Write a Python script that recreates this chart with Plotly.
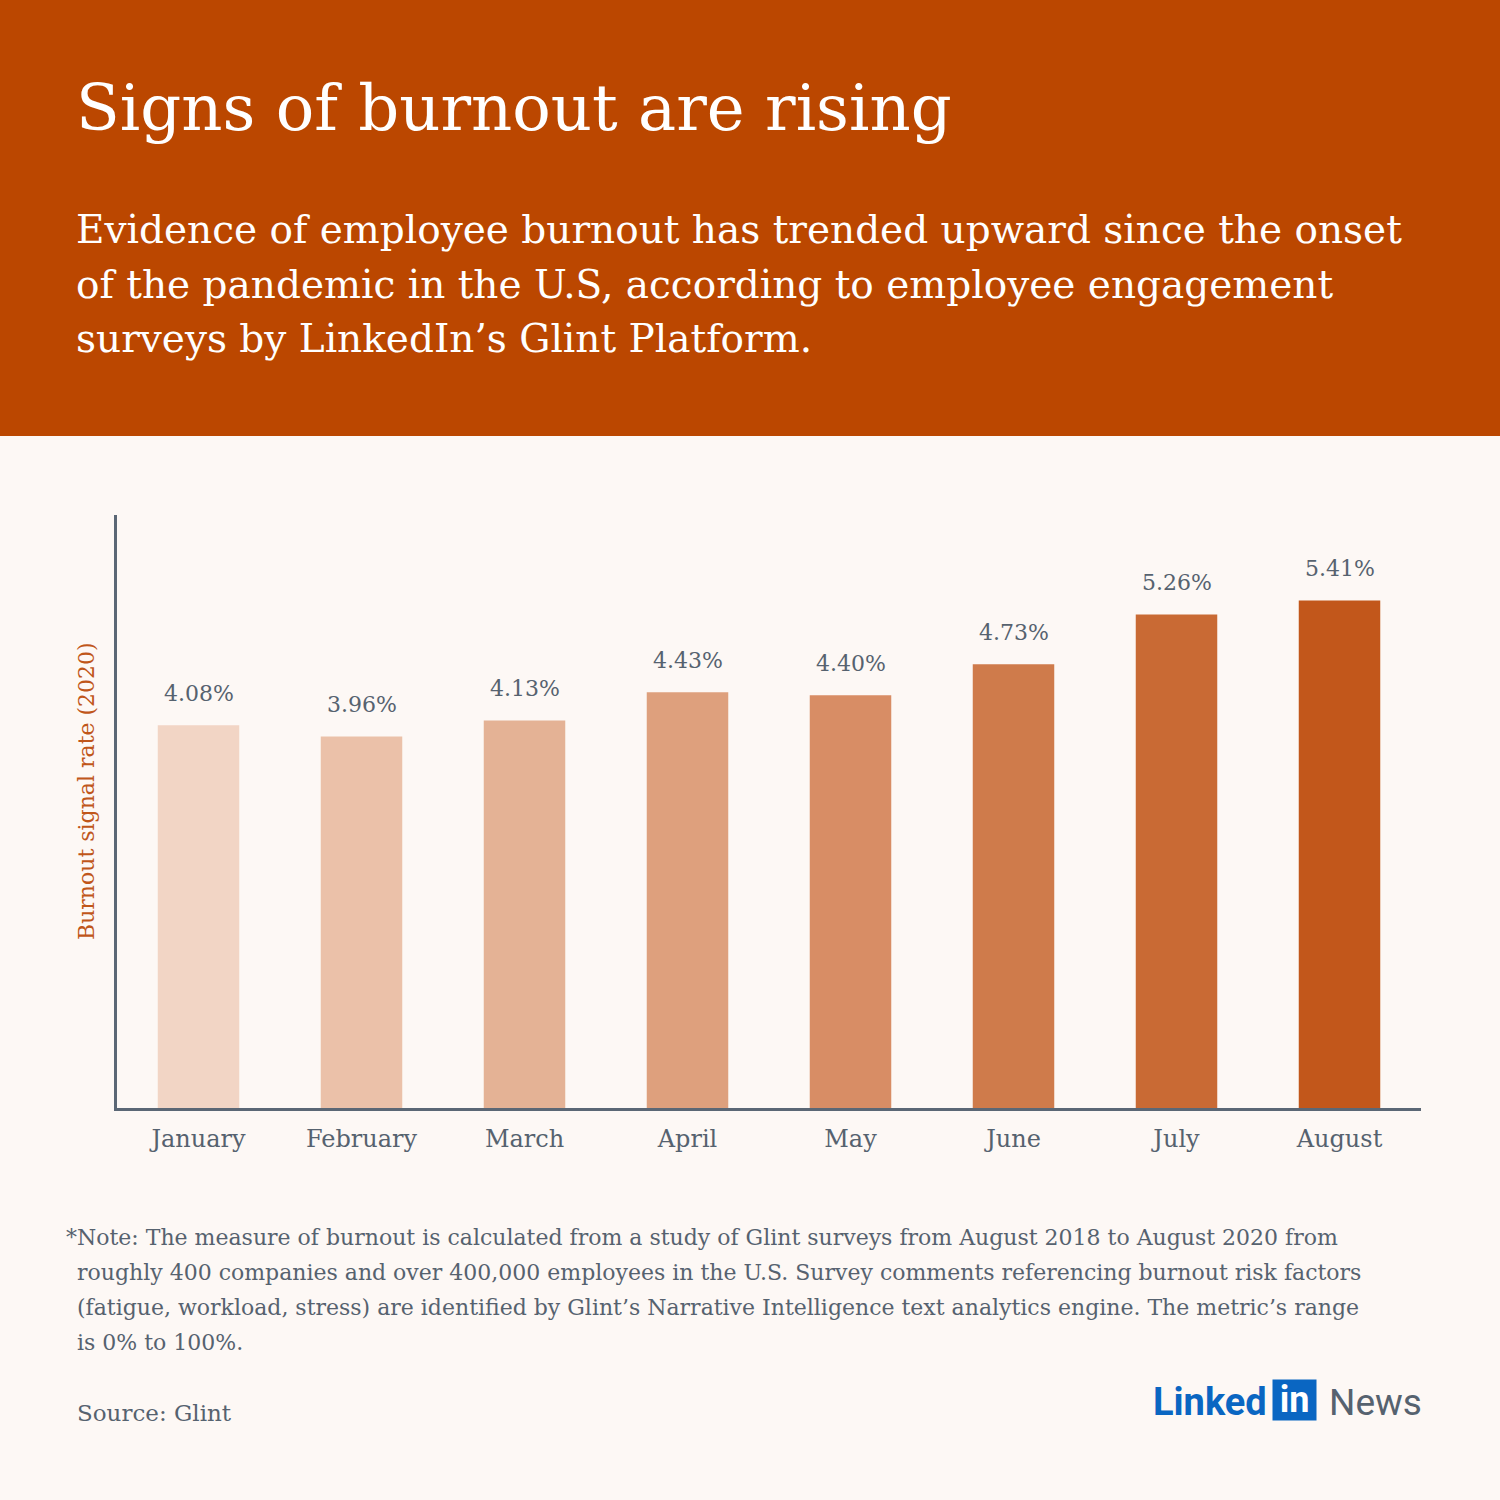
import plotly.graph_objects as go

months = ["January", "February", "March", "April", "May", "June", "July", "August"]
burnout_rate = [4.08, 3.96, 4.13, 4.43, 4.40, 4.73, 5.26, 5.41]

bar_colors = ["#F2D5C5", "#EBC1A9", "#E4B295", "#DEA07D", "#D88D65", "#CF7B4B", "#C96A34", "#C2571B"]

title_text = "Signs of burnout are rising"
subtitle_lines = [
    "Evidence of employee burnout has trended upward since the onset",
    "of the pandemic in the U.S, according to employee engagement",
    "surveys by LinkedIn’s Glint Platform.",
]
note_lines = [
    "*Note: The measure of burnout is calculated from a study of Glint surveys from August 2018 to August 2020 from",
    "roughly 400 companies and over 400,000 employees in the U.S. Survey comments referencing burnout risk factors",
    "(fatigue, workload, stress) are identified by Glint’s Narrative Intelligence text analytics engine. The metric’s range",
    "is 0% to 100%.",
]
y_title = "Burnout signal rate (2020)"
source_text = "Source: Glint"

W, H = 1500, 1500
SERIF = "DejaVu Serif, serif"
GRAY = "#56626F"
ORANGE = "#BB4700"
BG = "#FDF8F5"


def px(x):
    return x / W


def py(y):
    return 1 - y / H


fig = go.Figure(go.Bar(
    x=months, y=burnout_rate,
    marker=dict(color=bar_colors, line=dict(width=0)),
    hoverinfo="skip",
))

ann = []
# value labels via axis coordinates
for m, v in zip(months, burnout_rate):
    ann.append(dict(xref="x", yref="y", x=m, y=v, text=f"{v:.2f}%", showarrow=False,
                    yanchor="bottom", yshift=17,
                    font=dict(family=SERIF, size=22, color=GRAY)))

fig.update_layout(
    width=W, height=H,
    margin=dict(l=0, r=0, t=0, b=0),
    paper_bgcolor=BG, plot_bgcolor=BG,
    bargap=0.5, showlegend=False,
    xaxis=dict(domain=[px(117), px(1421)], showline=True, linecolor="#5B6775", linewidth=3,
               showgrid=False, ticks="", ticklabelstandoff=7,
               tickfont=dict(family=SERIF, size=24, color=GRAY), fixedrange=True),
    yaxis=dict(domain=[py(1108), py(515)], range=[0, 6.32], showline=True, linecolor="#5B6775",
               linewidth=3, showgrid=False, zeroline=False, showticklabels=False, ticks="",
               fixedrange=True),
    shapes=[dict(type="rect", xref="paper", yref="paper", x0=0, x1=1, y0=py(436), y1=1,
                 fillcolor=ORANGE, line=dict(width=0), layer="below")],
)

paper_ann = []
paper_ann.append(dict(text=title_text, x=px(74), y=py(108), xanchor="left", yanchor="middle",
                      font=dict(family=SERIF, size=64, color="white")))
for i, line in enumerate(subtitle_lines):
    paper_ann.append(dict(text=line, x=px(74), y=py(229 + 55 * i), xanchor="left", yanchor="middle",
                          font=dict(family=SERIF, size=39, color="white")))
for i, line in enumerate(note_lines):
    paper_ann.append(dict(text=line, x=px(64 if i == 0 else 75), y=py(1237 + 35 * i),
                          xanchor="left", yanchor="middle",
                          font=dict(family=SERIF, size=22, color=GRAY)))
paper_ann.append(dict(text=y_title, x=px(86), y=py(791), xanchor="center", yanchor="middle",
                      textangle=-90, font=dict(family=SERIF, size=22, color="#C0561A")))
paper_ann.append(dict(text=source_text, x=px(75), y=py(1413), xanchor="left", yanchor="middle",
                      font=dict(family=SERIF, size=23, color=GRAY)))
paper_ann.append(dict(text="<b>Linked</b>", x=px(1269), y=py(1402), xanchor="right", yanchor="middle",
                      font=dict(family="Roboto, sans-serif", size=38, color="#0A66C2")))
paper_ann.append(dict(text="<b>in</b>", x=px(1294.5), y=py(1400), xanchor="center", yanchor="middle",
                      bgcolor="#0A66C2", borderpad=0, width=43, height=40,
                      font=dict(family="Roboto, sans-serif", size=36, color="white")))
paper_ann.append(dict(text="News", x=px(1327), y=py(1402), xanchor="left", yanchor="middle",
                      font=dict(family="Roboto, sans-serif", size=37, color="#56626F")))
for a in paper_ann:
    a.update(xref="paper", yref="paper", showarrow=False)

fig.update_layout(annotations=ann + paper_ann)

fig.write_html("out.html", config={"displayModeBar": False},
               post_script="document.body.style.margin='0';")
